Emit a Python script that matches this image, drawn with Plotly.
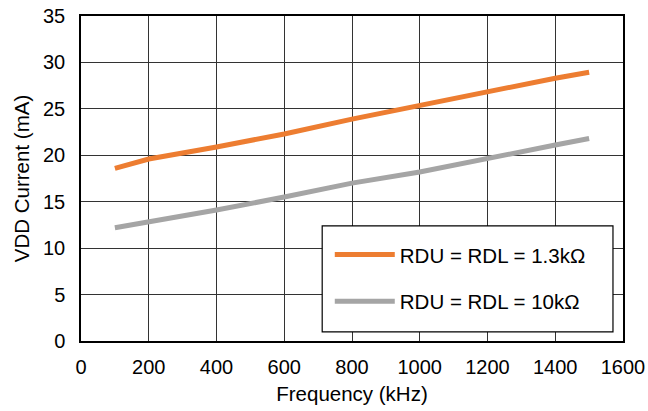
import plotly.graph_objects as go

freq_khz = [100, 200, 400, 600, 800, 1000, 1200, 1400, 1500]
i_rdu_1k3 = [18.6, 19.6, 20.9, 22.3, 23.9, 25.4, 26.85, 28.3, 28.95]
i_rdu_10k = [12.2, 12.8, 14.1, 15.5, 17.0, 18.2, 19.7, 21.1, 21.8]
names = ["RDU = RDL = 1.3kΩ", "RDU = RDL = 10kΩ"]
colors = ["#ED7D31", "#A5A5A5"]

x_ticks = [0, 200, 400, 600, 800, 1000, 1200, 1400, 1600]
y_ticks = [0, 5, 10, 15, 20, 25, 30, 35]

fig = go.Figure()
for i, (ys, nm, c) in enumerate(zip([i_rdu_1k3, i_rdu_10k], names, colors)):
    fig.add_trace(go.Scatter(x=freq_khz, y=ys, mode="lines", name=nm,
                             legendgroup=f"g{i}",
                             line=dict(color=c, width=5)))

FF = "Liberation Sans, Arial, sans-serif"
fig.update_layout(
    width=648, height=411,
    margin=dict(l=81, r=25, t=16, b=70, autoexpand=False),
    paper_bgcolor="white", plot_bgcolor="white",
    font=dict(family=FF, size=20, color="#000000"),
    showlegend=True,
    legend=dict(x=0.459, y=0.327, xanchor="left", yanchor="top",
                bgcolor="rgba(0,0,0,0)", borderwidth=0,
                font=dict(family=FF, size=20.5, color="#000000"),
                tracegroupgap=17, itemwidth=60),
    shapes=[dict(type="rect", xref="paper", yref="paper",
                 x0=0.445, x1=0.9815, y0=0.028, y1=0.354,
                 fillcolor="white", line=dict(color="#000000", width=1.2),
                 layer="above")],
)
fig.update_xaxes(range=[0, 1600], tickvals=x_ticks, ticktext=[str(v) for v in x_ticks],
                 showgrid=True, gridcolor="#333333", gridwidth=1,
                 showline=True, linecolor="#000000", linewidth=1.5, mirror=True,
                 zeroline=False, ticks="", ticklabelstandoff=7, automargin=False,
                 ticklabeloverflow="allow",
                 tickfont=dict(size=20),
                 title=dict(text="Frequency (kHz)", font=dict(size=20.5), standoff=10))
fig.update_yaxes(range=[0, 35], tickvals=y_ticks, ticktext=[str(v) for v in y_ticks],
                 showgrid=True, gridcolor="#333333", gridwidth=1,
                 showline=True, linecolor="#000000", linewidth=1.5, mirror=True,
                 zeroline=False, ticks="", ticklabelstandoff=10, automargin=False,
                 ticklabeloverflow="allow",
                 tickfont=dict(size=20),
                 title=dict(text="VDD Current (mA)", font=dict(size=20.5), standoff=8))

fig.write_html("out.html", config={"displayModeBar": False},
               post_script="document.body.style.margin='0';document.body.style.padding='0';")
